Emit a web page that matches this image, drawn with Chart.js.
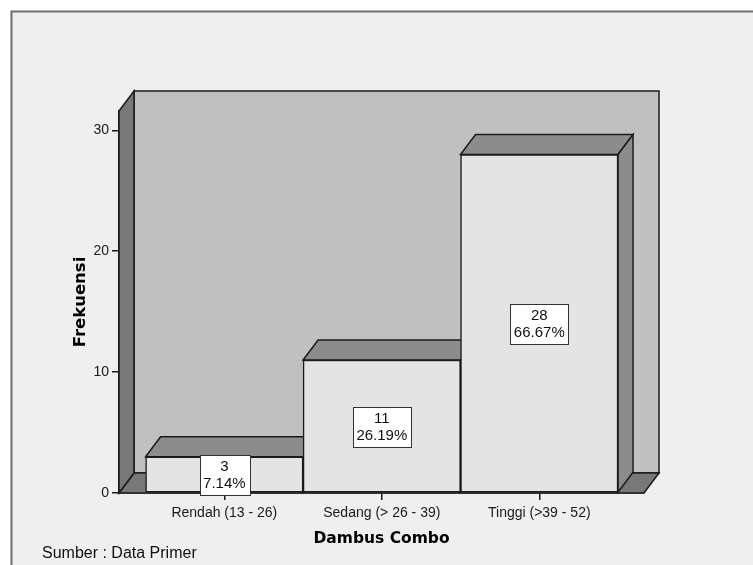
<!DOCTYPE html>
<html>
<head>
<meta charset="utf-8">
<script src="https://cdn.jsdelivr.net/npm/chart.js@4.4.1/dist/chart.umd.min.js"></script>
<style>
  html, body { margin: 0; padding: 0; background: #fff; }
  canvas { display: block; }
</style>
</head>
<body>
<canvas id="barChart" width="753" height="565"></canvas>
<script>
const categories = ['Rendah (13 - 26)', 'Sedang (> 26 - 39)', 'Tinggi (>39 - 52)'];
const frequencies = [3, 11, 28];
const yTicks = [0, 10, 20, 30];
const yTitle = 'Frekuensi';
const xTitle = 'Dambus Combo';
const sourceNote = 'Sumber : Data Primer';

const total = frequencies.reduce((a, b) => a + b, 0);
const percents = frequencies.map(v => (v / total * 100).toFixed(2) + '%');

// depth of the fake 3d look
const DX = 15, DY = 20;
const SANS = "'Liberation Sans', Arial, sans-serif";
const BOLD = "'DejaVu Sans', Verdana, sans-serif";

const poly = (ctx, pts, fill) =>
{
    ctx.beginPath();
    ctx.moveTo(pts[0][0], pts[0][1]);
    pts.slice(1).forEach(p => ctx.lineTo(p[0], p[1]));
    ctx.closePath();
    ctx.fillStyle = fill;
    ctx.fill();
    ctx.stroke();
};

const pseudo3d = {
    id: 'pseudo3d',
    beforeDraw(chart)
    {
        const { ctx, width, height } = chart;
        ctx.save();
        ctx.fillStyle = '#ffffff';
        ctx.fillRect(0, 0, width, height);
        ctx.fillStyle = '#efefef';
        ctx.fillRect(11, 11, width, height);
        ctx.strokeStyle = '#6e6e6e';
        ctx.lineWidth = 2;
        ctx.beginPath();
        ctx.moveTo(11.5, height);
        ctx.lineTo(11.5, 11.5);
        ctx.lineTo(width, 11.5);
        ctx.stroke();
        ctx.restore();
    },
    beforeDatasetsDraw(chart)
    {
        const { ctx, chartArea: { left: L, right: R, top: T, bottom: B } } = chart;
        ctx.save();
        ctx.strokeStyle = '#1a1a1a';
        ctx.lineWidth = 1.5;
        ctx.lineJoin = 'miter';
        // back wall, floor, side wall
        poly(ctx, [[L + DX, T - DY], [R + DX, T - DY], [R + DX, B - DY], [L + DX, B - DY]], '#c0c0c0');
        poly(ctx, [[L, B], [L + DX, B - DY], [R + DX, B - DY], [R, B]], '#787878');
        poly(ctx, [[L, T], [L + DX, T - DY], [L + DX, B - DY], [L, B]], '#787878');
        // top and side faces of the bars
        chart.getDatasetMeta(0).data.forEach(el =>
        {
            const x0 = el.x - el.width / 2, x1 = el.x + el.width / 2;
            poly(ctx, [[x0, el.y], [x0 + DX, el.y - DY], [x1 + DX, el.y - DY], [x1, el.y]], '#8c8c8c');
            poly(ctx, [[x1, el.y], [x1 + DX, el.y - DY], [x1 + DX, el.base - DY], [x1, el.base]], '#8c8c8c');
        });
        ctx.restore();
    },
    afterDatasetsDraw(chart)
    {
        const { ctx } = chart;
        ctx.save();
        ctx.font = '15px ' + SANS;
        ctx.textAlign = 'center';
        ctx.textBaseline = 'middle';
        chart.getDatasetMeta(0).data.forEach((el, i) =>
        {
            const lines = [String(frequencies[i]), percents[i]];
            const w = Math.max(...lines.map(t => ctx.measureText(t).width)) + 7;
            const h = 40;
            const cy = (el.y + el.base) / 2 + 1;
            ctx.fillStyle = '#ffffff';
            ctx.strokeStyle = '#333333';
            ctx.lineWidth = 1;
            ctx.fillRect(Math.round(el.x - w / 2) + 0.5, Math.round(cy - h / 2) + 0.5, Math.round(w), h);
            ctx.strokeRect(Math.round(el.x - w / 2) + 0.5, Math.round(cy - h / 2) + 0.5, Math.round(w), h);
            ctx.fillStyle = '#111111';
            ctx.fillText(lines[0], el.x, cy - 8.5);
            ctx.fillText(lines[1], el.x, cy + 8.5);
        });
        ctx.restore();
    },
    afterDraw(chart)
    {
        const { ctx } = chart;
        ctx.save();
        ctx.font = '16px ' + SANS;
        ctx.fillStyle = '#111111';
        ctx.textBaseline = 'middle';
        ctx.fillText(sourceNote, 42, 554);
        ctx.restore();
    }
};

const ctx = document.getElementById('barChart').getContext('2d');
new Chart(ctx, {
    type: 'bar',
    data: {
        datasets: [{
            data: frequencies.map((v, i) => ({ x: i, y: v })),
            backgroundColor: '#e4e4e4',
            borderColor: '#1a1a1a',
            borderWidth: 1.5,
            borderSkipped: false,
            barPercentage: 1,
            categoryPercentage: 1
        }]
    },
    options: {
        responsive: false,
        animation: false,
        layout: { padding: { top: 111, right: 109, left: 0, bottom: 0 } },
        plugins: {
            legend: { display: false },
            tooltip: { enabled: false }
        },
        scales: {
            x: {
                type: 'linear',
                min: -0.669,
                max: 2.665,
                offset: false,
                afterFit: s => { s.height = 72; },
                afterBuildTicks: s => { s.ticks = categories.map((c, i) => ({ value: i })); },
                grid: { offset: false, drawOnChartArea: false, tickLength: 7, color: '#1a1a1a', lineWidth: 1.5 },
                border: { color: '#1a1a1a', width: 1.5 },
                ticks: {
                    padding: 5,
                    color: '#1a1a1a',
                    font: { family: SANS, size: 14 },
                    maxRotation: 0,
                    callback: v => categories[v]
                },
                title: {
                    display: true,
                    text: xTitle,
                    color: '#000',
                    font: { family: BOLD, size: 15.5, weight: 'bold' },
                    padding: { top: 0, bottom: 17 }
                }
            },
            y: {
                min: 0,
                max: 31.6,
                afterFit: s => { s.width = 119; },
                afterBuildTicks: s => { s.ticks = yTicks.map(v => ({ value: v })); },
                grid: { drawOnChartArea: false, tickLength: 7, color: '#1a1a1a', lineWidth: 1.5 },
                border: { color: '#1a1a1a', width: 1.5 },
                ticks: {
                    padding: 3,
                    color: '#1a1a1a',
                    font: { family: SANS, size: 14 }
                },
                title: {
                    display: true,
                    text: yTitle,
                    color: '#000',
                    font: { family: BOLD, size: 16.5, weight: 'bold' },
                    padding: { top: 71, bottom: 0 }
                }
            }
        }
    },
    plugins: [pseudo3d]
});
</script>
</body>
</html>
